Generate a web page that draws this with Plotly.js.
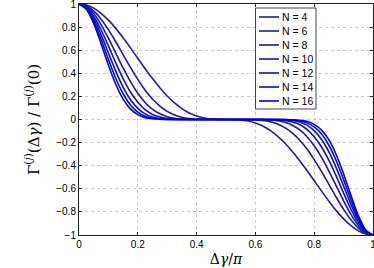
<!DOCTYPE html>
<html>
<head>
<meta charset="utf-8">
<script src="https://cdn.plot.ly/plotly-3.0.1.min.js"></script>
<style>html,body{margin:0;padding:0;background:#fff;}#plot{width:374px;height:268px;}</style>
</head>
<body>
<div id="plot"></div>
<script>
// x = Δγ/π
const xVals = [0,0.025,0.05,0.075,0.1,0.125,0.15,0.175,0.2,0.225,0.25,0.275,0.3,0.325,0.35,0.375,0.4,0.425,0.45,0.475,0.5,
  0.525,0.55,0.575,0.6,0.625,0.65,0.675,0.7,0.725,0.75,0.775,0.8,0.825,0.85,0.875,0.9,0.925,0.95,0.975,1];

const seriesNames = ["N = 4","N = 6","N = 8","N = 10","N = 12","N = 14","N = 16"];

const yN4 = [1,0.991,0.964,0.919,0.860,0.789,0.707,0.620,0.530,0.440,0.354,0.274,0.203,0.143,0.094,0.056,0.030,0.013,0.004,0.001,0,
  -0.001,-0.004,-0.013,-0.030,-0.056,-0.094,-0.143,-0.203,-0.274,-0.354,-0.440,-0.530,-0.620,-0.707,-0.789,-0.860,-0.919,-0.964,-0.991,-1];
const yN6 = [1,0.985,0.940,0.869,0.778,0.673,0.562,0.451,0.347,0.254,0.177,0.116,0.070,0.039,0.019,0.008,0.003,0.001,0,0,0,
  0,0,-0.001,-0.003,-0.008,-0.019,-0.039,-0.070,-0.116,-0.177,-0.254,-0.347,-0.451,-0.562,-0.673,-0.778,-0.869,-0.940,-0.985,-1];
const yN8 = [1,0.979,0.917,0.822,0.704,0.575,0.446,0.328,0.227,0.147,0.088,0.049,0.024,0.011,0.004,0.001,0,0,0,0,0,
  0,0,0,0,-0.001,-0.004,-0.011,-0.024,-0.049,-0.088,-0.147,-0.227,-0.328,-0.446,-0.575,-0.704,-0.822,-0.917,-0.979,-1];
const yN10 = [1,0.973,0.895,0.777,0.637,0.490,0.354,0.238,0.149,0.085,0.044,0.021,0.008,0.003,0.001,0,0,0,0,0,0,
  0,0,0,0,0,-0.001,-0.003,-0.008,-0.021,-0.044,-0.085,-0.149,-0.238,-0.354,-0.490,-0.637,-0.777,-0.895,-0.973,-1];
const yN12 = [1,0.967,0.873,0.735,0.576,0.419,0.281,0.173,0.097,0.049,0.022,0.009,0.003,0.001,0,0,0,0,0,0,0,
  0,0,0,0,0,0,-0.001,-0.003,-0.009,-0.022,-0.049,-0.097,-0.173,-0.281,-0.419,-0.576,-0.735,-0.873,-0.967,-1];
const yN14 = [1,0.961,0.851,0.695,0.521,0.357,0.223,0.126,0.064,0.028,0.011,0.004,0.001,0,0,0,0,0,0,0,0,
  0,0,0,0,0,0,0,-0.001,-0.004,-0.011,-0.028,-0.064,-0.126,-0.223,-0.357,-0.521,-0.695,-0.851,-0.961,-1];
const yN16 = [1,0.955,0.831,0.657,0.471,0.305,0.177,0.092,0.042,0.016,0.006,0.002,0,0,0,0,0,0,0,0,0,
  0,0,0,0,0,0,0,0,-0.002,-0.006,-0.016,-0.042,-0.092,-0.177,-0.305,-0.471,-0.657,-0.831,-0.955,-1];

const xTickVals = [0,0.2,0.4,0.6,0.8,1];
const xTickText = ["0","0.2","0.4","0.6","0.8","1"];
const yTickVals = [-1,-0.8,-0.6,-0.4,-0.2,0,0.2,0.4,0.6,0.8,1];
const yTickText = ["\u22121","\u22120.8","\u22120.6","\u22120.4","\u22120.2","0","0.2","0.4","0.6","0.8","1"];

const allY = [yN4,yN6,yN8,yN10,yN12,yN14,yN16];
const colors = ["#20208f","#1c1c9c","#1818aa","#1313b8","#0e0ec6","#0808d4","#0202e0"];

const traces = allY.map((ys,i)=>({
  x: xVals, y: ys, type:"scatter", mode:"lines", name: seriesNames[i],
  line:{color:colors[i], width:1.6, shape:"spline", smoothing:0.8},
  showlegend:false, hoverinfo:"skip"
}));

// custom Matlab-like legend (paper coordinates)
const W=374,H=268,ml=79,mr=1,mt=4,mb=33;
const pw=W-ml-mr, ph=H-mt-mb;
const px = p => (p-ml)/pw;
const py = p => (H-mb-p)/ph;
const shapes = [{type:"rect",xref:"paper",yref:"paper",x0:px(255.5),x1:px(316),y0:py(109),y1:py(8),
  line:{color:"#444",width:1},fillcolor:"#fff",layer:"above"}];
const annotations = [];
seriesNames.forEach((n,i)=>{
  const yy = 17 + 14*i;
  shapes.push({type:"line",xref:"paper",yref:"paper",x0:px(259),x1:px(279),y0:py(yy),y1:py(yy),
    line:{color:colors[i],width:1.6},layer:"above"});
  annotations.push({xref:"paper",yref:"paper",x:px(279.5),y:py(yy),text:n,showarrow:false,
    xanchor:"left",yanchor:"middle",font:{family:"Liberation Sans, Arial, sans-serif",size:10.5,color:"#000"}});
});

const axisCommon = {
  showline:true, linecolor:"#222", linewidth:1, mirror:"ticks",
  ticks:"inside", ticklen:3, tickcolor:"#222",
  showgrid:true, gridcolor:"#c8c8c8", griddash:"dot", gridwidth:1,
  zeroline:false, ticklabeloverflow:"allow",
  tickfont:{family:"Liberation Sans, Arial, sans-serif",size:10,color:"#000"}
};

const layout = {
  width:W, height:H, margin:{l:ml,r:mr,t:mt,b:mb},
  paper_bgcolor:"#fff", plot_bgcolor:"#fff",
  showlegend:false,
  xaxis: Object.assign({}, axisCommon, {range:[0,1], tickvals:xTickVals, ticktext:xTickText,
    title:{text:"\u0394<i>\u03b3</i>/<i>\u03c0</i>", font:{family:"DejaVu Serif, Liberation Serif, serif",size:14,color:"#000"}, standoff:5}}),
  yaxis: Object.assign({}, axisCommon, {range:[-1,1], tickvals:yTickVals, ticktext:yTickText,
    title:{text:"\u0393<sup>(<i>j</i>)</sup>(\u0394<i>\u03b3</i>) / \u0393<sup>(<i>j</i>)</sup>(0)", font:{family:"DejaVu Serif, Liberation Serif, serif",size:15,color:"#000"}, standoff:13}}),
  shapes: shapes, annotations: annotations
};

Plotly.newPlot("plot", traces, layout, {staticPlot:true, displayModeBar:false});
</script>
</body>
</html>
